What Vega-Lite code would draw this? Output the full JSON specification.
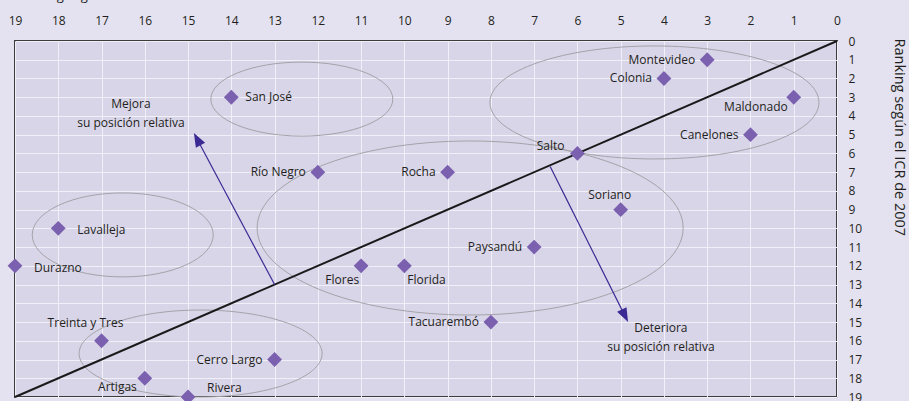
{
  "$schema": "https://vega.github.io/schema/vega-lite/v6.json",
  "width": 822,
  "height": 356,
  "autosize": {"type": "none"},
  "padding": {"left": 15, "top": 41, "right": 72, "bottom": 4},
  "background": "#e4e2f0",
  "config": {
    "view": {"fill": "#d9d5e9", "stroke": "#3c3c3c", "strokeWidth": 2},
    "font": "Open Sans",
    "text": {"font": "Open Sans", "fontSize": 12, "color": "#231f20"}
  },
  "datasets": {
    "deptos": [
      {"departamento": "Montevideo", "x": 3, "y": 1},
      {"departamento": "Colonia", "x": 4, "y": 2},
      {"departamento": "Maldonado", "x": 1, "y": 3},
      {"departamento": "Canelones", "x": 2, "y": 5},
      {"departamento": "Salto", "x": 6, "y": 6},
      {"departamento": "Soriano", "x": 5, "y": 9},
      {"departamento": "Paysandú", "x": 7, "y": 11},
      {"departamento": "Tacuarembó", "x": 8, "y": 15},
      {"departamento": "Rocha", "x": 9, "y": 7},
      {"departamento": "Río Negro", "x": 12, "y": 7},
      {"departamento": "San José", "x": 14, "y": 3},
      {"departamento": "Flores", "x": 11, "y": 12},
      {"departamento": "Florida", "x": 10, "y": 12},
      {"departamento": "Lavalleja", "x": 18, "y": 10},
      {"departamento": "Durazno", "x": 19, "y": 12},
      {"departamento": "Treinta y Tres", "x": 17, "y": 16},
      {"departamento": "Cerro Largo", "x": 13, "y": 17},
      {"departamento": "Artigas", "x": 16, "y": 18},
      {"departamento": "Rivera", "x": 15, "y": 19}
    ],
    "elipses": [
      {"grupo": "A", "x": 4.22, "y": 3.28},
      {"grupo": "B", "x": 12.37, "y": 3.1},
      {"grupo": "C", "x": 8.48, "y": 9.98},
      {"grupo": "D", "x": 16.51, "y": 10.35},
      {"grupo": "E", "x": 14.71, "y": 16.68}
    ],
    "diagonal": [{"x": 19, "y": 19, "x2": 0, "y2": 0}],
    "flechas": [
      {"flecha": "mejora", "x": 13, "y": 13, "x2": 14.77, "y2": 5.32},
      {"flecha": "deteriora", "x": 6.63, "y": 6.7, "x2": 4.92, "y2": 14.58}
    ],
    "textos": [
      {"x": 16.32, "y": 3.58, "texto": "Mejora\nsu posición relativa"},
      {"x": 4.07, "y": 15.53, "texto": "Deteriora\nsu posición relativa"}
    ]
  },
  "encoding": {
    "x": {
      "field": "x",
      "type": "quantitative",
      "scale": {"domain": [0, 19], "reverse": true, "nice": false, "zero": false},
      "axis": {
        "orient": "top",
        "values": [0, 1, 2, 3, 4, 5, 6, 7, 8, 9, 10, 11, 12, 13, 14, 15, 16, 17, 18, 19],
        "grid": true,
        "gridColor": "#f1eff8",
        "gridWidth": 1,
        "ticks": false,
        "domain": false,
        "labelPadding": 14,
        "labelFontSize": 12,
        "labelFont": "Open Sans",
        "labelColor": "#231f20",
        "labelFlush": false,
        "labelOverlap": false,
        "title": "Ranking según el ICR de 2008",
        "titleX": 0,
        "titleY": -42,
        "titleAlign": "left",
        "titleAnchor": null,
        "titleBaseline": "alphabetic",
        "titleFont": "Open Sans",
        "titleFontSize": 13,
        "titleFontWeight": "normal",
        "titleColor": "#231f20"
      }
    },
    "y": {
      "field": "y",
      "type": "quantitative",
      "scale": {"domain": [0, 19], "reverse": true, "nice": false, "zero": false},
      "axis": {
        "orient": "right",
        "values": [0, 1, 2, 3, 4, 5, 6, 7, 8, 9, 10, 11, 12, 13, 14, 15, 16, 17, 18, 19],
        "grid": true,
        "gridColor": "#f1eff8",
        "gridWidth": 1,
        "ticks": false,
        "domain": false,
        "labelPadding": 11,
        "labelFontSize": 12,
        "labelFont": "Open Sans",
        "labelColor": "#231f20",
        "labelFlush": false,
        "labelOverlap": false,
        "title": "Ranking según el ICR de 2007",
        "titleAngle": 90,
        "titleX": 61,
        "titleY": -3,
        "titleAlign": "left",
        "titleAnchor": null,
        "titleBaseline": "middle",
        "titleFont": "Open Sans",
        "titleFontSize": 14.5,
        "titleFontWeight": "normal",
        "titleColor": "#231f20"
      }
    }
  },
  "layer": [
    {
      "data": {"name": "elipses"},
      "transform": [{"filter": "datum.grupo == 'A'"}],
      "mark": {"type": "point", "shape": "M-1,0A1,0.3435,0,1,1,1,0A1,0.3435,0,1,1,-1,0Z", "size": 108241, "filled": false, "stroke": "#a3a3a8", "strokeWidth": 1, "opacity": 1}
    },
    {
      "data": {"name": "elipses"},
      "transform": [{"filter": "datum.grupo == 'B'"}],
      "mark": {"type": "point", "shape": "M-1,0A1,0.4066,0,1,1,1,0A1,0.4066,0,1,1,-1,0Z", "size": 33124, "filled": false, "stroke": "#a3a3a8", "strokeWidth": 1, "opacity": 1}
    },
    {
      "data": {"name": "elipses"},
      "transform": [{"filter": "datum.grupo == 'C'"}],
      "mark": {"type": "point", "shape": "M-1,0A1,0.4085,0,1,1,1,0A1,0.4085,0,1,1,-1,0Z", "size": 181476, "filled": false, "stroke": "#a3a3a8", "strokeWidth": 1, "opacity": 1}
    },
    {
      "data": {"name": "elipses"},
      "transform": [{"filter": "datum.grupo == 'D'"}],
      "mark": {"type": "point", "shape": "M-1,0A1,0.464,0,1,1,1,0A1,0.464,0,1,1,-1,0Z", "size": 32761, "filled": false, "stroke": "#a3a3a8", "strokeWidth": 1, "opacity": 1}
    },
    {
      "data": {"name": "elipses"},
      "transform": [{"filter": "datum.grupo == 'E'"}],
      "mark": {"type": "point", "shape": "M-1,0A1,0.358,0,1,1,1,0A1,0.358,0,1,1,-1,0Z", "size": 59049, "filled": false, "stroke": "#a3a3a8", "strokeWidth": 1, "opacity": 1}
    },
    {
      "data": {"name": "diagonal"},
      "mark": {"type": "rule", "color": "#1a1a1a", "strokeWidth": 2},
      "encoding": {"x2": {"field": "x2"}, "y2": {"field": "y2"}}
    },
    {
      "data": {"name": "flechas"},
      "mark": {"type": "rule", "color": "#3b2a93", "strokeWidth": 1.2},
      "encoding": {"x2": {"field": "x2"}, "y2": {"field": "y2"}}
    },
    {
      "data": {"name": "flechas"},
      "transform": [{"filter": "datum.flecha == 'mejora'"}],
      "mark": {"type": "point", "shape": "M0,-1L0.6,0.6L-0.6,0.6Z", "size": 306, "filled": true, "color": "#3b2a93", "opacity": 1, "angle": 332},
      "encoding": {"x": {"field": "x2", "type": "quantitative"}, "y": {"field": "y2", "type": "quantitative"}}
    },
    {
      "data": {"name": "flechas"},
      "transform": [{"filter": "datum.flecha == 'deteriora'"}],
      "mark": {"type": "point", "shape": "M0,-1L0.6,0.6L-0.6,0.6Z", "size": 306, "filled": true, "color": "#3b2a93", "opacity": 1, "angle": 153.3},
      "encoding": {"x": {"field": "x2", "type": "quantitative"}, "y": {"field": "y2", "type": "quantitative"}}
    },
    {
      "data": {"name": "deptos"},
      "mark": {"type": "point", "shape": "diamond", "size": 220, "filled": true, "color": "#7a60ae", "opacity": 1}
    },
    {
      "data": {"name": "deptos"},
      "transform": [{"filter": {"field": "departamento", "oneOf": ["Montevideo", "Colonia", "Canelones", "Paysandú", "Tacuarembó", "Rocha", "Río Negro", "Cerro Largo"]}}],
      "mark": {"type": "text", "align": "right", "baseline": "middle", "dx": -12},
      "encoding": {"text": {"field": "departamento"}}
    },
    {
      "data": {"name": "deptos"},
      "transform": [{"filter": {"field": "departamento", "oneOf": ["San José"]}}],
      "mark": {"type": "text", "align": "left", "baseline": "middle", "dx": 14},
      "encoding": {"text": {"field": "departamento"}}
    },
    {
      "data": {"name": "deptos"},
      "transform": [{"filter": {"field": "departamento", "oneOf": ["Lavalleja", "Durazno"]}}],
      "mark": {"type": "text", "align": "left", "baseline": "middle", "dx": 19, "dy": 2},
      "encoding": {"text": {"field": "departamento"}}
    },
    {
      "data": {"name": "deptos"},
      "transform": [{"filter": {"field": "departamento", "oneOf": ["Maldonado"]}}],
      "mark": {"type": "text", "align": "right", "baseline": "middle", "dx": -6, "dy": 10},
      "encoding": {"text": {"field": "departamento"}}
    },
    {
      "data": {"name": "deptos"},
      "transform": [{"filter": {"field": "departamento", "oneOf": ["Salto"]}}],
      "mark": {"type": "text", "align": "right", "baseline": "middle", "dx": -13, "dy": -7},
      "encoding": {"text": {"field": "departamento"}}
    },
    {
      "data": {"name": "deptos"},
      "transform": [{"filter": {"field": "departamento", "oneOf": ["Soriano"]}}],
      "mark": {"type": "text", "align": "center", "baseline": "middle", "dx": -11, "dy": -15},
      "encoding": {"text": {"field": "departamento"}}
    },
    {
      "data": {"name": "deptos"},
      "transform": [{"filter": {"field": "departamento", "oneOf": ["Flores"]}}],
      "mark": {"type": "text", "align": "right", "baseline": "middle", "dx": -2, "dy": 14},
      "encoding": {"text": {"field": "departamento"}}
    },
    {
      "data": {"name": "deptos"},
      "transform": [{"filter": {"field": "departamento", "oneOf": ["Florida"]}}],
      "mark": {"type": "text", "align": "left", "baseline": "middle", "dx": 3, "dy": 14},
      "encoding": {"text": {"field": "departamento"}}
    },
    {
      "data": {"name": "deptos"},
      "transform": [{"filter": {"field": "departamento", "oneOf": ["Treinta y Tres"]}}],
      "mark": {"type": "text", "align": "center", "baseline": "middle", "dx": -16, "dy": -18},
      "encoding": {"text": {"field": "departamento"}}
    },
    {
      "data": {"name": "deptos"},
      "transform": [{"filter": {"field": "departamento", "oneOf": ["Artigas"]}}],
      "mark": {"type": "text", "align": "right", "baseline": "middle", "dx": -8, "dy": 9},
      "encoding": {"text": {"field": "departamento"}}
    },
    {
      "data": {"name": "deptos"},
      "transform": [{"filter": {"field": "departamento", "oneOf": ["Rivera"]}}],
      "mark": {"type": "text", "align": "left", "baseline": "middle", "dx": 19, "dy": -9},
      "encoding": {"text": {"field": "departamento"}}
    },
    {
      "data": {"name": "textos"},
      "mark": {"type": "text", "align": "center", "baseline": "alphabetic", "lineBreak": "\n", "lineHeight": 19},
      "encoding": {"text": {"field": "texto"}}
    }
  ]
}
